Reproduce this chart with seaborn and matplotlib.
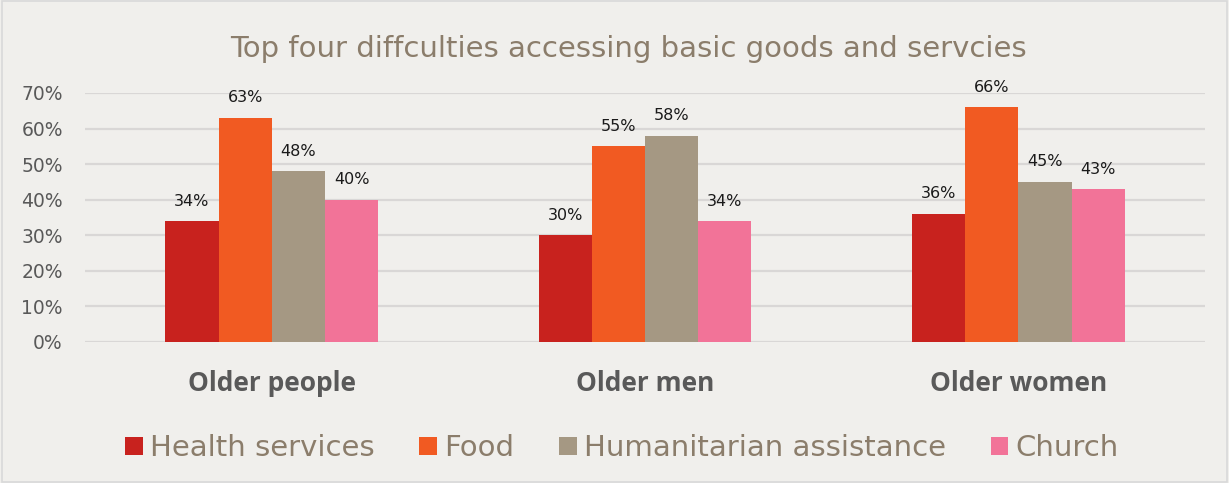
import matplotlib
matplotlib.use("Agg")
import matplotlib.pyplot as plt
import seaborn as sns
import pandas as pd
from matplotlib.patches import Rectangle, Patch
from matplotlib.ticker import FuncFormatter

groups = ["Older people", "Older men", "Older women"]
series = ["Health services", "Food", "Humanitarian assistance", "Church"]
health = [34, 30, 36]
food = [63, 55, 66]
humanitarian = [48, 58, 45]
church = [40, 34, 43]
colors = ["#C8221E", "#F15A22", "#A59883", "#F27398"]

rows = []
for s, vals in zip(series, [health, food, humanitarian, church]):
    for g, v in zip(groups, vals):
        rows.append({"group": g, "series": s, "value": v / 100})
df = pd.DataFrame(rows)

sns.set_theme(style="white")
bg = "#F0EFEC"
fig = plt.figure(figsize=(12.29, 4.83), dpi=100, facecolor=bg)
ax = fig.add_axes([0.0692, 0.292, 0.9113, 0.5155])
ax.set_facecolor(bg)

sns.barplot(data=df, x="group", y="value", hue="series", order=groups,
            hue_order=series, palette=colors, width=0.57, gap=0,
            edgecolor="none", linewidth=0, ax=ax, legend=False, saturation=1)

ax.set_ylim(0, 0.70)
ax.set_xlim(-0.5, 2.5)
ax.set_yticks([i / 10 for i in range(8)])
ax.yaxis.set_major_formatter(FuncFormatter(lambda v, p: f"{v*100:.0f}%"))
ax.grid(axis="y", color="#D9D7D6", linewidth=1.6)
ax.set_axisbelow(True)
for sp in ax.spines.values():
    sp.set_visible(False)
ax.tick_params(axis="y", length=0, labelsize=13.5, colors="#595959", pad=16)
ax.tick_params(axis="x", length=0, pad=20)
ax.set_xlabel("")
ax.set_ylabel("")
for lab in ax.get_xticklabels():
    lab.set_fontfamily("Open Sans")
    lab.set_fontweight("bold")
    lab.set_fontsize(19)
    lab.set_color("#595959")

for cont in ax.containers:
    ax.bar_label(cont, labels=[f"{b.get_height()*100:.0f}%" for b in cont],
                 padding=9, fontsize=11.5, color="#1a1a1a")

fig.suptitle("Top four diffculties accessing basic goods and servcies",
             x=0.511, y=0.928, fontsize=21, color="#8B7D6B")

handles = [Patch(facecolor=c, edgecolor="none") for c in colors]
leg = fig.legend(handles, series, loc="center", bbox_to_anchor=(0.506, 0.072),
                 ncol=4, frameon=False, fontsize=21, handlelength=0.6,
                 handleheight=0.6, handletextpad=0.24, columnspacing=1.55,
                 labelcolor="#8B7D6B")

fig.patches.append(Rectangle((0.002, 0.003), 0.996, 0.994, transform=fig.transFigure,
                             fill=False, edgecolor="#D9D9D9", linewidth=1.2))

fig.savefig("out.png", dpi=100, facecolor=bg)
